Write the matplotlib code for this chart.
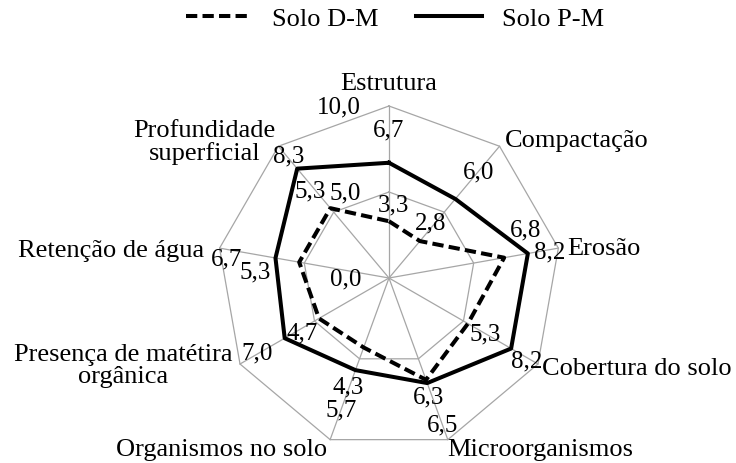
import matplotlib
matplotlib.use("Agg")
import matplotlib.pyplot as plt
import numpy as np

plt.rcParams['font.family'] = ['Liberation Serif', 'DejaVu Serif']

categories = ["Estrutura", "Compactação", "Erosão", "Cobertura do solo",
              "Microorganismos", "Organismos no solo",
              "Presença de matétira\norgânica", "Retenção de água",
              "Profundidade\nsuperficial"]
solo_dm = [3.3, 2.8, 6.8, 5.3, 6.3, 4.3, 4.7, 5.3, 5.3]
solo_pm = [6.7, 6.0, 8.2, 8.2, 6.5, 5.7, 7.0, 6.7, 8.3]
rings = [5.0, 10.0]
tick_values = [0.0, 5.0, 10.0]

# label offsets in pixels (x right, y down), converted to points below
dm_off = [(4, -17), (11, -19), (21, -28), (17, 10), (3, 17),
          (-15, 39), (-17, 14), (-44, 9), (-20, -18)]
pm_off = [(0, -33), (23, -27), (22, -2), (16, 12), (15, 41),
          (-14, 39), (-28, 14), (-49, 0), (-9, -13)]
# category label placement: (dx, dy) px, ha
cat_pos = [((0, -23), 'center'), ((5, -6), 'left'), ((9, 0), 'left'),
           ((4, 4), 'left'), ((-1, 9), 'left'), ((-3, 9), 'right'),
           ((-8, 1), 'right'), ((-15, 2), 'right'), ((-3, -5), 'right')]

px = 72 / 100


def fmt(v):
    return f"{v:.1f}".replace('.', ',')


n = len(categories)
theta = np.arange(n) * 2 * np.pi / n
theta_c = np.append(theta, theta[0])

fig = plt.figure(figsize=(7.36, 4.64), dpi=100)
ax = fig.add_axes([0.2948, 0.028, 0.4674, 0.7414], projection='polar')
ax.set_theta_zero_location('N')
ax.set_theta_direction(-1)
ax.set_ylim(0, 10)
ax.grid(False)
ax.set_xticks([])
ax.set_yticks([])
ax.spines['polar'].set_visible(False)
ax.patch.set_visible(False)

grid_color = '#A6A6A6'
for r in rings:
    ax.plot(theta_c, [r] * (n + 1), color=grid_color, lw=0.9, clip_on=False)
for t in theta:
    ax.plot([t, t], [0, 10], color=grid_color, lw=0.9, clip_on=False)

ax.plot(theta_c, solo_dm + solo_dm[:1], color='black', lw=2.9,
        dashes=(2.8, 1.3), dash_capstyle='butt', label='Solo D-M', clip_on=False)
ax.plot(theta_c, solo_pm + solo_pm[:1], color='black', lw=2.9,
        label='Solo P-M', clip_on=False)

for i, t in enumerate(theta):
    dx, dy = dm_off[i]
    ax.annotate(fmt(solo_dm[i]), xy=(t, solo_dm[i]), xytext=(dx * px, -dy * px),
                textcoords='offset points', ha='center', va='center',
                fontsize=18, annotation_clip=False)
    dx, dy = pm_off[i]
    ax.annotate(fmt(solo_pm[i]), xy=(t, solo_pm[i]), xytext=(dx * px, -dy * px),
                textcoords='offset points', ha='center', va='center',
                fontsize=18, annotation_clip=False)
    (dx, dy), ha = cat_pos[i]
    ax.annotate(categories[i], xy=(t, 10), xytext=(dx * px, -dy * px),
                textcoords='offset points', ha=ha, va='center',
                multialignment='center', fontsize=19, linespacing=1.0,
                annotation_clip=False)

for v in tick_values:
    ax.annotate(fmt(v), xy=(0, v), xytext=(-28 * px, 0),
                textcoords='offset points', ha='right', va='center',
                fontsize=18, annotation_clip=False)

fig.legend(loc='center', bbox_to_anchor=(0.537, 0.959), ncol=2, frameon=False,
           fontsize=19, handlelength=2.5, handletextpad=0.76, columnspacing=1.44)

fig.savefig('out.png', dpi=100)
